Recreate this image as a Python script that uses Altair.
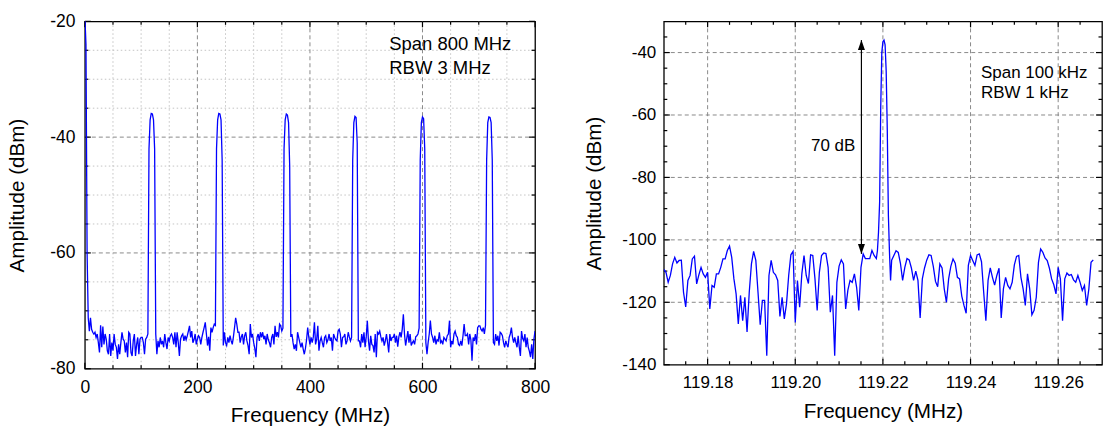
import altair as alt
import pandas as pd

FONT = "Liberation Sans"
BLUE = "#0000ff"

# ---------------- left panel: 0-800 MHz sweep, 2 MHz per point ----------------
left_step_mhz = 2.0
left_amp = [
    -19.0, -24.0, -60.0, -71.2, -73.5, -71.2, -73.2, -73.7, -74.0, -73.7,
    -74.6, -74.0, -75.5, -77.2, -72.5, -76.3, -72.7, -75.8, -74.0, -74.9,
    -76.9, -77.5, -74.0, -77.8, -75.5, -76.9, -74.0, -75.8, -76.3, -78.3,
    -75.8, -77.5, -75.5, -73.7, -74.9, -75.2, -77.2, -75.5, -78.0, -73.7,
    -74.0, -77.2, -77.8, -75.2, -74.0, -77.8, -75.8, -74.6, -77.5, -74.9,
    -74.6, -74.6, -75.5, -77.5, -74.9, -74.6, -74.0, -42.0, -37.0, -35.9,
    -36.0, -37.0, -42.0, -74.0, -77.5, -75.2, -76.3, -74.6, -75.8, -75.2,
    -76.3, -74.0, -75.5, -76.6, -74.6, -75.2, -74.3, -74.0, -74.6, -75.8,
    -73.7, -76.3, -73.7, -75.5, -77.8, -74.9, -74.3, -74.0, -75.2, -74.3,
    -75.0, -74.3, -73.5, -72.6, -74.6, -73.5, -75.5, -75.0, -74.0, -75.8,
    -74.9, -74.3, -74.6, -75.8, -74.6, -73.7, -72.9, -72.0, -74.0, -76.0,
    -74.5, -76.9, -72.9, -73.7, -72.9, -72.3, -72.5, -42.0, -37.0, -35.9,
    -36.0, -37.0, -44.0, -76.0, -73.7, -75.5, -76.0, -74.6, -75.5, -74.3,
    -75.2, -75.8, -74.5, -72.9, -71.2, -72.3, -73.7, -73.7, -75.5, -74.5,
    -74.0, -75.8, -74.3, -73.7, -75.2, -76.0, -77.5, -72.3, -74.6, -74.0,
    -75.5, -76.5, -78.0, -74.6, -74.0, -75.2, -73.7, -74.6, -73.7, -74.9,
    -74.3, -75.8, -74.0, -75.0, -75.5, -76.3, -74.6, -74.0, -75.8, -72.6,
    -74.5, -73.7, -74.6, -72.3, -72.6, -73.5, -73.0, -42.0, -37.0, -36.0,
    -36.2, -37.5, -45.0, -74.5, -74.0, -75.5, -76.6, -75.8, -76.9, -73.7,
    -74.6, -75.5, -76.3, -75.5, -76.6, -77.5, -76.5, -75.0, -72.9, -74.6,
    -75.8, -74.6, -75.5, -74.5, -72.0, -75.8, -74.9, -72.6, -76.9, -75.2,
    -74.6, -75.5, -76.3, -74.6, -74.3, -75.5, -75.0, -74.0, -75.2, -74.6,
    -76.9, -74.0, -74.6, -75.0, -75.2, -73.5, -73.2, -74.0, -76.3, -74.6,
    -74.5, -74.0, -75.8, -75.2, -73.7, -74.5, -75.2, -74.6, -44.0, -37.5,
    -36.4, -36.6, -41.0, -75.2, -75.2, -76.3, -74.0, -75.5, -73.7, -76.3,
    -74.5, -71.7, -75.2, -76.9, -74.3, -75.8, -76.0, -77.2, -74.0, -78.0,
    -73.7, -74.0, -73.5, -74.5, -75.2, -74.6, -76.0, -75.2, -74.0, -75.5,
    -77.2, -74.0, -75.2, -74.6, -74.6, -74.0, -75.5, -74.3, -76.2, -74.5,
    -73.7, -74.6, -73.2, -70.6, -74.0, -76.0, -74.8, -73.5, -75.5, -74.0,
    -76.0, -75.5, -75.2, -75.8, -74.5, -74.3, -74.0, -73.0, -44.0, -37.5,
    -36.5, -36.8, -42.0, -75.5, -77.5, -75.5, -74.0, -71.7, -74.0, -74.6,
    -75.5, -74.3, -75.8, -75.0, -75.2, -73.7, -75.5, -75.2, -75.8, -74.6,
    -74.9, -75.2, -74.3, -74.0, -71.7, -76.3, -75.2, -75.8, -74.0, -73.5,
    -74.3, -74.6, -75.8, -76.0, -75.2, -76.0, -74.3, -72.3, -74.3, -74.3,
    -74.0, -75.8, -74.0, -75.0, -78.6, -74.6, -75.2, -74.0, -75.8, -72.9,
    -72.6, -72.6, -73.2, -73.5, -72.9, -74.0, -72.5, -44.0, -37.5, -36.5,
    -36.6, -37.5, -44.0, -75.5, -75.8, -74.0, -75.2, -74.3, -76.0, -73.7,
    -73.9, -74.3, -75.5, -76.3, -75.2, -75.8, -76.3, -74.6, -74.0, -72.9,
    -74.6, -75.5, -74.6, -75.5, -76.3, -74.3, -76.3, -77.8, -73.5, -74.8,
    -75.2, -74.0, -76.3, -74.6, -76.3, -77.0, -78.0, -75.8, -78.3, -74.9,
    -73.5,
]

# ---------------- right panel: 119.17-119.27 MHz, 0.5 kHz per point ----------------
right_start_mhz = 119.17
right_step_mhz = 0.0005
right_amp_low = [  # points 0..96
    -109.5, -110.4, -113.6, -111.4, -107.7, -105.6, -107.4, -106.6, -106.5, -116.8,
    -121.5, -113.0, -111.4, -106.1, -105.2, -114.1, -111.2, -108.8, -110.9, -112.0,
    -110.4, -122.1, -114.6, -115.2, -110.9, -110.9, -108.8, -106.1, -106.1, -103.4,
    -102.0, -105.6, -112.5, -117.3, -126.9, -117.8, -125.9, -118.4, -129.5, -116.8,
    -107.7, -103.7, -106.6, -116.8, -127.2, -119.4, -119.4, -137.1, -111.4, -106.6,
    -110.4, -111.2, -113.0, -124.5, -118.4, -125.3, -120.5, -111.4, -104.8, -103.7,
    -126.5, -113.0, -121.6, -110.9, -105.0, -111.4, -114.0, -104.8, -105.0, -112.5,
    -122.6, -110.4, -105.0, -104.2, -104.4, -108.8, -123.2, -117.8, -137.1, -113.6,
    -108.4, -106.4, -107.7, -122.1, -116.2, -113.0, -113.6, -110.9, -115.2, -122.6,
    -108.8, -104.5, -106.0, -106.0, -106.0, -103.4, -105.0,
]
right_peak_idx = [97, 97.5, 98, 98.5, 99, 99.5, 100, 100.5, 101, 101.5, 102, 102.5, 103, 103.5, 104]
right_peak_amp = [-106.0, -103.5, -97.5, -88.0, -58.0, -40.0, -36.5, -36.0, -37.5, -46.0,
                  -65.0, -92.0, -104.0, -113.0, -106.5]
right_amp_high = [  # points 105..196
    -105.0, -103.5, -104.0, -107.5, -113.0, -108.8, -106.0, -106.4, -109.0, -113.0,
    -110.0, -113.0, -125.0, -112.5, -109.0, -106.5, -104.8, -105.0, -108.5, -113.3,
    -115.0, -107.7, -109.0, -115.7, -120.0, -112.5, -108.5, -106.1, -107.5, -112.0,
    -112.5, -118.0, -121.0, -123.5, -108.2, -105.0, -106.6, -108.2, -104.8, -104.5,
    -107.0, -116.8, -125.9, -113.0, -109.0, -112.0, -114.5, -111.4, -109.1, -125.0,
    -115.7, -112.0, -114.6, -115.7, -113.6, -108.0, -105.3, -105.0, -112.0, -115.7,
    -121.0, -110.9, -115.7, -124.0, -122.6, -118.4, -107.2, -102.9, -104.0, -105.8,
    -106.6, -109.1, -112.5, -114.4, -117.3, -108.8, -112.5, -125.9, -112.5, -110.6,
    -111.4, -111.1, -112.8, -113.6, -111.4, -113.6, -116.2, -114.6, -121.0, -115.7,
    -107.2, -106.4,
]

# ---------------- axes / ticks ----------------
left_x_major = [0, 200, 400, 600, 800]
left_x_minor = [50, 100, 150, 250, 300, 350, 450, 500, 550, 650, 700, 750]
left_y_major = [-80, -60, -40, -20]
left_y_minor = [-75, -70, -65, -55, -50, -45, -35, -30, -25]
left_x_grid = [200, 400, 600]
left_y_grid = [-60, -40]

right_x_major = [119.18, 119.20, 119.22, 119.24, 119.26]
right_x_minor = [119.175, 119.185, 119.19, 119.195, 119.205, 119.21, 119.215,
                 119.225, 119.23, 119.235, 119.245, 119.25, 119.255, 119.265]
right_y_major = [-140, -120, -100, -80, -60, -40]
right_y_minor = [-135, -130, -125, -115, -110, -105, -95, -90, -85,
                 -75, -70, -65, -55, -50, -45, -35]
right_y_grid = [-120, -100, -80, -60, -40]

# ---------------- annotations ----------------
left_notes_text = ["Span 800 MHz", "RBW 3 MHz"]
left_notes_x = [541, 541]
left_notes_y = [-24.0, -28.1]
right_notes_text = ["Span 100 kHz", "RBW 1 kHz"]
right_notes_x = [119.2424, 119.2424]
right_notes_y = [-46.4, -52.95]
arrow_x = 119.2151
arrow_top = -36.0
arrow_bottom = -104.5
arrow_label = ["70 dB"]
arrow_label_x = [119.2137]
arrow_label_y = [-69.8]

# ---------------- build frames ----------------
df_left = pd.DataFrame({"f": [i * left_step_mhz for i in range(len(left_amp))], "a": left_amp})
r_idx = list(range(0, 97)) + right_peak_idx + list(range(105, 197))
r_amp = right_amp_low + right_peak_amp + right_amp_high
df_right = pd.DataFrame({"f": [right_start_mhz + j * right_step_mhz for j in r_idx], "a": r_amp})

MAJ_GRID = dict(color="#8a8a8a", strokeDash=[4, 3], strokeWidth=1)
MIN_GRID = dict(color="#c4c4c4", strokeDash=[1.5, 2.5], strokeWidth=1)
TICK = dict(color="black", strokeWidth=1.2)
HYPHEN = "replace(datum.label, '\u2212', '-')"


def panel(df, W, H, xdom, ydom, xmaj, xmin, ymaj, ymin, xgrid, ygrid, xgrid_min, ygrid_min,
          xfmt, lab_fs, xlab_pad, ylab_pad, ytitle_x, notes, note_fs, extra=None):
    xs = alt.Scale(domain=xdom, nice=False, zero=False)
    ys = alt.Scale(domain=ydom, nice=False, zero=False)
    ax_x = alt.Axis(values=xmaj, format=xfmt, title="Frequency (MHz)", grid=False, ticks=False,
                    tickSize=0, domain=False, labelFlush=False, labelOverlap=False,
                    labelFont=FONT, labelFontSize=lab_fs, labelColor="black", labelPadding=xlab_pad,
                    titleFont=FONT, titleFontSize=20.7, titleFontWeight="normal", titleColor="black",
                    titleY=37, titleBaseline="top")
    ax_y = alt.Axis(values=ymaj, title="Amplitude (dBm)", grid=False, ticks=False, tickSize=0,
                    domain=False, labelFlush=False, labelOverlap=False, labelExpr=HYPHEN,
                    labelFont=FONT, labelFontSize=lab_fs, labelColor="black", labelPadding=ylab_pad,
                    titleFont=FONT, titleFontSize=20.7, titleFontWeight="normal", titleColor="black",
                    titleAngle=270, titleX=ytitle_x, titleY=H / 2, titleBaseline="bottom",
                    titleAlign="center")

    def X(f):
        return alt.X(f, type="quantitative", scale=xs, axis=ax_x)

    def Y(f):
        return alt.Y(f, type="quantitative", scale=ys, axis=ax_y)

    def vrules(vals, style):
        return alt.Chart(pd.DataFrame({"v": vals})).mark_rule(**style).encode(
            x=X("v"), y=alt.value(0), y2=alt.value(H))

    def hrules(vals, style):
        return alt.Chart(pd.DataFrame({"v": vals})).mark_rule(**style).encode(
            y=Y("v"), x=alt.value(0), x2=alt.value(W))

    def xticks(vals, L):
        d = pd.DataFrame({"v": vals})
        return [
            alt.Chart(d).mark_rule(**TICK).encode(x=X("v"), y=alt.value(H), y2=alt.value(H - L)),
            alt.Chart(d).mark_rule(**TICK).encode(x=X("v"), y=alt.value(0), y2=alt.value(L)),
        ]

    def yticks(vals, L):
        d = pd.DataFrame({"v": vals})
        return [
            alt.Chart(d).mark_rule(**TICK).encode(y=Y("v"), x=alt.value(0), x2=alt.value(L)),
            alt.Chart(d).mark_rule(**TICK).encode(y=Y("v"), x=alt.value(W), x2=alt.value(W - L)),
        ]

    layers = []
    if xgrid_min:
        layers.append(vrules(xgrid_min, MIN_GRID))
    if ygrid_min:
        layers.append(hrules(ygrid_min, MIN_GRID))
    layers.append(vrules(xgrid, MAJ_GRID))
    layers.append(hrules(ygrid, MAJ_GRID))
    layers += xticks(xmaj, 6) + xticks(xmin, 3.5) + yticks(ymaj, 6) + yticks(ymin, 3.5)
    layers.append(alt.Chart(df).mark_line(color=BLUE, strokeWidth=1.3, clip=True).encode(
        x=X("f"), y=Y("a")))
    ntext, nx, ny = notes
    layers.append(alt.Chart(pd.DataFrame({"t": ntext, "x": nx, "y": ny})).mark_text(
        align="left", baseline="middle", font=FONT, fontSize=note_fs, color="black").encode(
        x=X("x"), y=Y("y"), text="t:N"))
    if extra:
        layers += extra(X, Y)
    return alt.layer(*layers).properties(width=W, height=H)


def arrow_layers(X, Y):
    d_rule = pd.DataFrame({"x": [arrow_x], "y1": [arrow_top], "y2": [arrow_bottom]})
    rule = alt.Chart(d_rule).mark_rule(color="black", strokeWidth=1.2).encode(
        x=X("x"), y=Y("y1"), y2="y2:Q")
    up = alt.Chart(pd.DataFrame({"x": [arrow_x], "y": [arrow_top]})).mark_point(
        shape="M0,0L0.7,2L-0.7,2Z", size=100, filled=True, color="black", opacity=1).encode(
        x=X("x"), y=Y("y"))
    down = alt.Chart(pd.DataFrame({"x": [arrow_x], "y": [arrow_bottom]})).mark_point(
        shape="M0,0L0.7,-2L-0.7,-2Z", size=100, filled=True, color="black", opacity=1).encode(
        x=X("x"), y=Y("y"))
    label = alt.Chart(pd.DataFrame({"t": arrow_label, "x": arrow_label_x, "y": arrow_label_y})).mark_text(
        align="right", baseline="middle", font=FONT, fontSize=17, color="black").encode(
        x=X("x"), y=Y("y"), text="t:N")
    return [rule, up, down, label]


left = panel(df_left, 451, 348, [0, 800], [-80, -20],
             left_x_major, left_x_minor, left_y_major, left_y_minor,
             left_x_grid, left_y_grid, left_x_minor, left_y_minor,
             "d", 17.5, 10, 10, -57,
             (left_notes_text, left_notes_x, left_notes_y), 18.5)

right = panel(df_right, 439, 344, [119.17, 119.27], [-140, -30],
              right_x_major, right_x_minor, right_y_major, right_y_minor,
              right_x_major, right_y_grid, None, None,
              ".2f", 17, 10, 8, -59,
              (right_notes_text, right_notes_x, right_notes_y), 17, extra=arrow_layers)

chart = alt.hconcat(left, right, spacing=129, bounds="flush").properties(
    padding={"left": 6, "top": 11, "right": 0, "bottom": 0},
    background="white",
).configure_view(stroke="black", strokeWidth=1.3)

chart.save("out.html", embed_options={"renderer": "svg", "actions": False})
